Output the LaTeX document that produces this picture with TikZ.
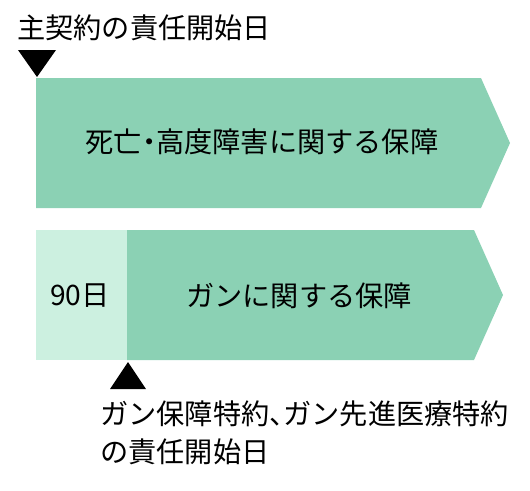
\documentclass[tikz,border=0pt]{standalone}
\usepackage{fontspec}
\setmainfont{Noto Sans CJK JP}
\newfontfamily\serre[RawFeature=+palt]{Noto Sans CJK JP}
\usepackage{tikz}
\usetikzlibrary{calc}
\usepackage{xcolor}
\definecolor{vertfonce}{RGB}{139,209,180}
\definecolor{vertclair}{RGB}{204,240,224}

\begin{document}
\begin{tikzpicture}[x=1pt,y=-1pt]

		\useasboundingbox (0,0) rectangle (530,490);
		\tikzset{texte/.style={inner sep=0pt, font=\fontsize{28.2}{38}\selectfont}}
		\tikzset{fleche/.style={fill=black}}

		% bandes
		\fill[vertfonce] (36,78) -- (481,78) -- (510,143) -- (481,208) -- (36,208) -- cycle;
		\fill[vertclair] (36,230) rectangle (127,360);
		\fill[vertfonce] (127,230) -- (474,230) -- (503,295) -- (474,360) -- (127,360) -- cycle;

		% triangles
		\fill[fleche] (18,50) -- (56,50) -- (37,77) -- cycle;
		\fill[fleche] (128,362) -- (146,389) -- (110,389) -- cycle;

		\node[texte, anchor=west] (D) at (17,28) {主契約の責任開始日};
		\node[texte] (A) at (262,142) {死亡{\serre ・}高度障害に関する保障};
		\node[texte] (N) at (80,296) {90日};
		\node[texte] (G) at (299,296) {ガンに関する保障};
		\node[texte, anchor=west, align=left] (F) at (100,433) {ガン保障特約{\serre 、}ガン先進医療特約\\の責任開始日};

		\end{tikzpicture}
\end{document}
